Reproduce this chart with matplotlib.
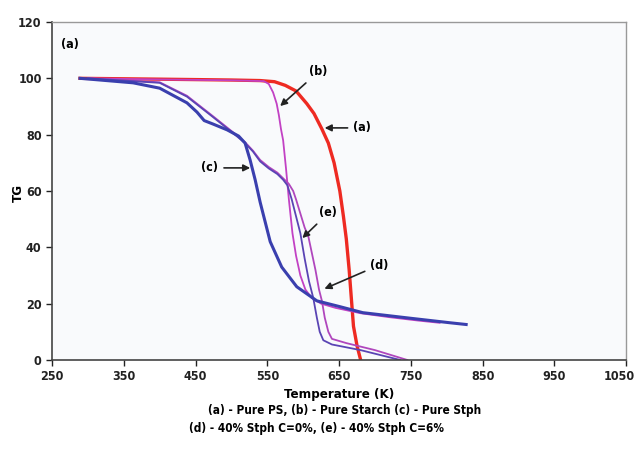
import matplotlib.pyplot as plt
import matplotlib.transforms as mtransforms
import numpy as np

plt.rcParams['font.family'] = ['Liberation Sans Narrow', 'DejaVu Sans']
plt.rcParams['font.stretch'] = 'condensed'
plt.rcParams['font.weight'] = 'bold'

# (a) Pure PS
t_a = [289, 400, 500, 540, 560, 575, 590, 605, 615, 626, 635, 643, 651, 656, 660, 664, 667, 670, 675, 680]
tg_a = [100, 99.7, 99.4, 99.2, 98.8, 97.5, 95.5, 91, 87.5, 82, 77, 70, 60, 51, 43, 32, 22, 12, 5, 0]
# (b) Pure Starch
t_b = [300, 400, 500, 545, 552, 558, 563, 566, 569, 572, 576, 580, 585, 590, 596, 603, 612, 625, 645, 680, 720, 760, 790]
tg_b = [100, 99.6, 99.3, 99, 98, 95, 91, 87, 82, 78, 68, 57, 45, 37, 30, 25, 22, 20, 18.5, 16.6, 15.2, 14, 13.2]
# (c) Pure Stph
t_c = [289, 363, 400, 438, 452, 462, 474, 494, 510, 519, 526, 533, 540, 554, 570, 591, 619, 650, 683, 750, 805, 827]
tg_c = [100, 98.4, 96.5, 91.3, 88, 85, 83.8, 81.7, 79.5, 77, 71, 64, 56, 42, 33, 26, 21, 19, 16.8, 14.8, 13.2, 12.6]
# (d) 40% Stph C=0%
t_d = [300, 400, 438, 474, 500, 519, 530, 540, 552, 564, 572, 578, 584, 590, 596, 602, 608, 614, 619, 623, 628, 640, 680, 735]
tg_d = [100, 98.4, 93.5, 86.3, 81, 77, 74, 70.5, 68, 66, 64, 62, 57, 51, 45, 36, 28, 22, 15, 10, 7, 5.5, 3.5, 0]
# (e) 40% Stph C=6%
t_e = [300, 400, 438, 474, 500, 519, 530, 540, 552, 564, 572, 580, 586, 590, 596, 602, 607, 612, 617, 622, 626, 630, 635, 640, 660, 700, 745]
tg_e = [100, 98.6, 93.8, 86.6, 81.3, 77.3, 74.3, 71, 68.5, 66.5, 64.5, 62.5, 60, 57, 52, 47, 44, 38, 32, 25, 21, 15, 10, 7.5, 6, 3.5, 0]

fig = plt.figure(figsize=(6.39, 4.66), dpi=100)
ax = fig.add_axes([0.0814, 0.2275, 0.8986, 0.7253])
ax.set_facecolor('#f9fafc')

ax.plot(t_b, tg_b, color='#c241c4', lw=1.3, zorder=2)
ax.plot(t_e, tg_e, color='#b046bd', lw=1.3, zorder=2)
ax.plot(t_d, tg_d, color='#5a44b4', lw=1.3, zorder=2)
ax.plot(t_c, tg_c, color='#3a3fae', lw=2.2, zorder=3)
ax.plot(t_a, tg_a, color='#ee2a22', lw=2.4, zorder=1)

ax.set_xlim(250, 1050)
ax.set_ylim(0, 120)
ax.set_xticks(np.arange(250, 1051, 100))
ax.set_yticks(np.arange(0, 121, 20))
ax.tick_params(direction='out', length=4, width=1, labelsize=9, colors='#222222')
for s in ['left', 'bottom']:
    ax.spines[s].set_color('#444444')
    ax.spines[s].set_linewidth(1.2)
for s in ['top', 'right']:
    ax.spines[s].set_color('#999999')
    ax.spines[s].set_linewidth(1.0)

# keep the last x label inside the figure
last = ax.get_xticklabels()[-1]
last.set_transform(last.get_transform() +
                   mtransforms.ScaledTranslation(-7 / 100, 0, fig.dpi_scale_trans))

ax.set_xlabel('Temperature (K)', fontsize=9.5, fontweight='bold', labelpad=3)
fig.text(0.028, 0.585, 'TG', rotation=90, ha='center', va='center',
         fontsize=9.5, fontweight='bold')

ax.text(262, 112, '(a)', fontsize=9, fontweight='bold', ha='left', va='center')

arrow = dict(arrowstyle='-|>', color='#222222', lw=1.2, mutation_scale=10)
notes = [
    ('(a)', (626, 82.4), (682, 82.4)),
    ('(b)', (565, 89.5), (621, 102.3)),
    ('(c)', (530, 68.2), (470, 68.2)),
    ('(e)', (596, 42.6), (635, 52.2)),
    ('(d)', (626, 24.9), (706, 33.7)),
]
for lab, xy, xyt in notes:
    ax.annotate(lab, xy=xy, xytext=xyt, fontsize=9, fontweight='bold',
                ha='center', va='center', arrowprops=arrow)

fig.text(0.54, 0.12, '(a) - Pure PS, (b) - Pure Starch (c) - Pure Stph',
         ha='center', va='center', fontsize=8.5, fontweight='bold')
fig.text(0.495, 0.08, '(d) - 40% Stph C=0%, (e) - 40% Stph C=6%',
         ha='center', va='center', fontsize=8.5, fontweight='bold')

fig.savefig('out.png', dpi=100)
